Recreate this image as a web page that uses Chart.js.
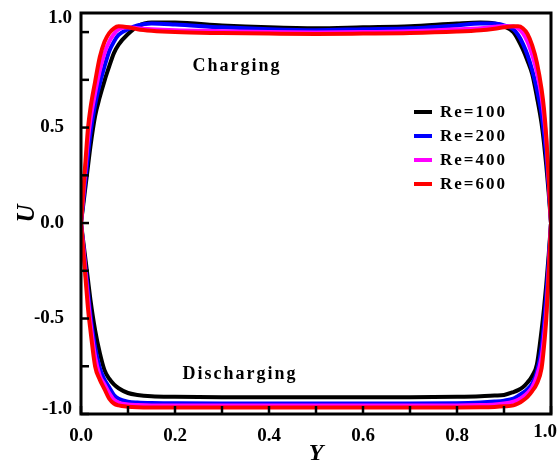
<!DOCTYPE html>
<html>
<head>
<meta charset="utf-8">
<script src="https://cdn.jsdelivr.net/npm/chart.js@4.4.1/dist/chart.umd.min.js"></script>
<style>
  html, body { margin: 0; padding: 0; background: #fff; }
  #wrap { width: 560px; height: 463px; }
</style>
</head>
<body>
<div id="wrap"><canvas id="chart" width="560" height="463"></canvas></div>
<script>
// Y positions (x axis)
const yValues = [0, 0.005, 0.01, 0.015, 0.02, 0.03, 0.04, 0.05, 0.06, 0.07, 0.08, 0.1, 0.12, 0.15, 0.2,
  0.3, 0.4, 0.5, 0.6, 0.7, 0.8, 0.85, 0.88, 0.9, 0.92, 0.93, 0.94, 0.95, 0.96, 0.97, 0.98, 0.985, 0.99, 0.995, 1.0];

// charging branch (U > 0)
const re100Charging = [0, 0.1, 0.2, 0.3, 0.4, 0.56, 0.66, 0.745, 0.82, 0.89, 0.935, 0.99, 1.03, 1.05, 1.05,
  1.035, 1.025, 1.02, 1.025, 1.03, 1.045, 1.05, 1.045, 1.03, 1.0, 0.96, 0.91, 0.85, 0.78, 0.66, 0.52, 0.42, 0.3, 0.16, 0];
const re200Charging = [0, 0.12, 0.24, 0.36, 0.47, 0.62, 0.73, 0.82, 0.9, 0.95, 0.985, 1.015, 1.035, 1.045, 1.04,
  1.025, 1.015, 1.01, 1.015, 1.02, 1.035, 1.045, 1.045, 1.035, 1.015, 0.985, 0.94, 0.88, 0.8, 0.7, 0.57, 0.47, 0.35, 0.19, 0];
const re400Charging = [0, 0.15, 0.3, 0.44, 0.54, 0.68, 0.8, 0.89, 0.95, 0.99, 1.015, 1.025, 1.02, 1.015, 1.01,
  1.005, 1.0, 0.998, 1.0, 1.005, 1.015, 1.02, 1.028, 1.032, 1.03, 1.02, 0.995, 0.95, 0.88, 0.79, 0.66, 0.56, 0.43, 0.23, 0];
const re600Charging = [0, 0.17, 0.34, 0.5, 0.6, 0.74, 0.87, 0.95, 0.995, 1.02, 1.03, 1.025, 1.015, 1.007, 1.0,
  0.995, 0.992, 0.99, 0.992, 0.995, 1.003, 1.01, 1.018, 1.025, 1.03, 1.03, 1.02, 0.99, 0.93, 0.84, 0.7, 0.6, 0.45, 0.24, 0];

// discharging branch (U < 0)
const re100Discharging = [0, -0.1, -0.2, -0.3, -0.4, -0.56, -0.68, -0.77, -0.815, -0.845, -0.865, -0.89, -0.9, -0.907, -0.91,
  -0.912, -0.912, -0.912, -0.912, -0.912, -0.91, -0.907, -0.903, -0.9, -0.885, -0.875, -0.86, -0.835, -0.8, -0.74, -0.56, -0.45, -0.32, -0.17, 0];
const re200Discharging = [0, -0.12, -0.24, -0.36, -0.48, -0.65, -0.76, -0.82, -0.86, -0.9, -0.92, -0.935, -0.94, -0.943, -0.944,
  -0.945, -0.945, -0.945, -0.945, -0.945, -0.944, -0.94, -0.935, -0.93, -0.92, -0.905, -0.89, -0.87, -0.84, -0.78, -0.65, -0.53, -0.38, -0.2, 0];
const re400Discharging = [0, -0.13, -0.27, -0.4, -0.52, -0.7, -0.8, -0.845, -0.89, -0.925, -0.94, -0.95, -0.953, -0.955, -0.955,
  -0.955, -0.955, -0.955, -0.955, -0.955, -0.955, -0.953, -0.95, -0.945, -0.935, -0.925, -0.91, -0.89, -0.86, -0.8, -0.7, -0.6, -0.46, -0.25, 0];
const re600Discharging = [0, -0.15, -0.3, -0.45, -0.56, -0.75, -0.82, -0.87, -0.92, -0.945, -0.955, -0.962, -0.965, -0.966, -0.966,
  -0.966, -0.966, -0.966, -0.966, -0.966, -0.966, -0.965, -0.963, -0.96, -0.955, -0.945, -0.93, -0.91, -0.88, -0.84, -0.76, -0.65, -0.5, -0.27, 0];

const seriesLabels = ['Re=100', 'Re=200', 'Re=400', 'Re=600'];
const seriesColors = ['#000000', '#0000ff', '#ff00ff', '#ff0000'];
const chargingSets = [re100Charging, re200Charging, re400Charging, re600Charging];
const dischargingSets = [re100Discharging, re200Discharging, re400Discharging, re600Discharging];

const xTickLabels = ['0.0', '0.2', '0.4', '0.6', '0.8', '1.0'];
const yTickLabels = ['-1.0', '-0.5', '0.0', '0.5', '1.0'];

const serif = '"Liberation Serif", "Times New Roman", serif';
const tickFont = 'bold 19px ' + serif;

function pts(vals) {
  return yValues.map((x, i) => ({ x: x, y: vals[i] }));
}

const datasets = [];
seriesLabels.forEach((lab, i) => {
  [chargingSets[i], dischargingSets[i]].forEach(vals => {
    datasets.push({
      label: lab,
      data: pts(vals),
      borderColor: seriesColors[i],
      backgroundColor: seriesColors[i],
      borderWidth: 4,
      pointRadius: 0,
      showLine: true,
      cubicInterpolationMode: 'monotone',
      order: 4 - i
    });
  });
});

// frame, inward ticks, end labels, annotations and legend
const decorPlugin = {
  id: 'decor',
  afterDatasetsDraw(chart) {
    const ctx = chart.ctx;
    const a = chart.chartArea;
    const xs = chart.scales.x, ys = chart.scales.y;
    ctx.save();
    ctx.strokeStyle = '#000';
    ctx.lineWidth = 2.5;
    xs.ticks.forEach(t => {
      const px = xs.getPixelForValue(t.value);
      ctx.beginPath();
      ctx.moveTo(px, a.bottom);
      ctx.lineTo(px, a.bottom - 8);
      ctx.stroke();
    });
    ys.ticks.forEach(t => {
      const py = ys.getPixelForValue(t.value);
      ctx.beginPath();
      ctx.moveTo(a.left, py);
      ctx.lineTo(a.left + 8, py);
      ctx.stroke();
    });
    ctx.lineWidth = 3;
    ctx.strokeRect(a.left, a.top, a.right - a.left, a.bottom - a.top);

    ctx.fillStyle = '#000';
    // end labels pulled inside the canvas, as in the original figure
    ctx.font = tickFont;
    ctx.textBaseline = 'middle';
    ctx.textAlign = 'right';
    ctx.fillText(yTickLabels[4], a.left - 9, a.top + 5);
    ctx.fillText(yTickLabels[0], a.left - 9, a.bottom - 5);
    ctx.textAlign = 'center';
    ctx.fillText(xTickLabels[5], a.right - 6, a.bottom + 18);

    ctx.letterSpacing = '2px';
    ctx.font = 'bold 18px ' + serif;
    ctx.fillText('Charging', 237, 66);
    ctx.fillText('Discharging', 240, 374);

    ctx.textAlign = 'left';
    ctx.font = 'bold 17px ' + serif;
    const rowY = [112, 136, 160, 184];
    seriesLabels.forEach((lab, i) => {
      ctx.strokeStyle = seriesColors[i];
      ctx.lineWidth = 4;
      ctx.beginPath();
      ctx.moveTo(414, rowY[i]);
      ctx.lineTo(432, rowY[i]);
      ctx.stroke();
      ctx.fillText(lab, 440, rowY[i] + 1);
    });
    ctx.restore();
  }
};

new Chart(document.getElementById('chart').getContext('2d'), {
  type: 'scatter',
  data: { datasets: datasets },
  options: {
    responsive: false,
    animation: false,
    layout: { padding: { top: 13, right: 9, left: 0, bottom: 0 } },
    plugins: {
      legend: { display: false },
      tooltip: { enabled: false }
    },
    scales: {
      x: {
        type: 'linear',
        min: 0,
        max: 1,
        grid: { display: false },
        border: { display: false },
        ticks: {
          stepSize: 0.1,
          autoSkip: false,
          maxRotation: 0,
          padding: 3,
          color: '#000',
          font: { family: serif, size: 19, weight: 'bold' },
          callback: v => {
            const k = Math.round(v * 10);
            if (k === 10) return '';
            return k % 2 === 0 ? xTickLabels[k / 2] : '';
          }
        },
        title: {
          display: true,
          text: 'Y',
          color: '#000',
          padding: { top: 0, bottom: -3 },
          font: { family: serif, size: 24, weight: 'bold', style: 'italic', lineHeight: 1 }
        },
        afterFit: s => { s.height = 49; s.paddingLeft = 0; s.paddingRight = 0; }
      },
      y: {
        type: 'linear',
        min: -1,
        max: 1.1,
        grid: { display: false },
        border: { display: false },
        ticks: {
          stepSize: 0.25,
          includeBounds: false,
          autoSkip: false,
          padding: 9,
          color: '#000',
          font: { family: serif, size: 19, weight: 'bold' },
          callback: v => {
            const k = Math.round(v * 4);
            if (k === 4 || k === -4) return '';
            return k % 2 === 0 ? yTickLabels[k / 2 + 2] : '';
          }
        },
        title: {
          display: true,
          text: 'U',
          color: '#000',
          padding: { top: 15, bottom: 0 },
          font: { family: serif, size: 25, weight: 'bold', style: 'italic', lineHeight: 1 }
        },
        afterFit: s => { s.width = 81; s.paddingTop = 0; s.paddingBottom = 0; }
      }
    }
  },
  plugins: [decorPlugin]
});
</script>
</body>
</html>
